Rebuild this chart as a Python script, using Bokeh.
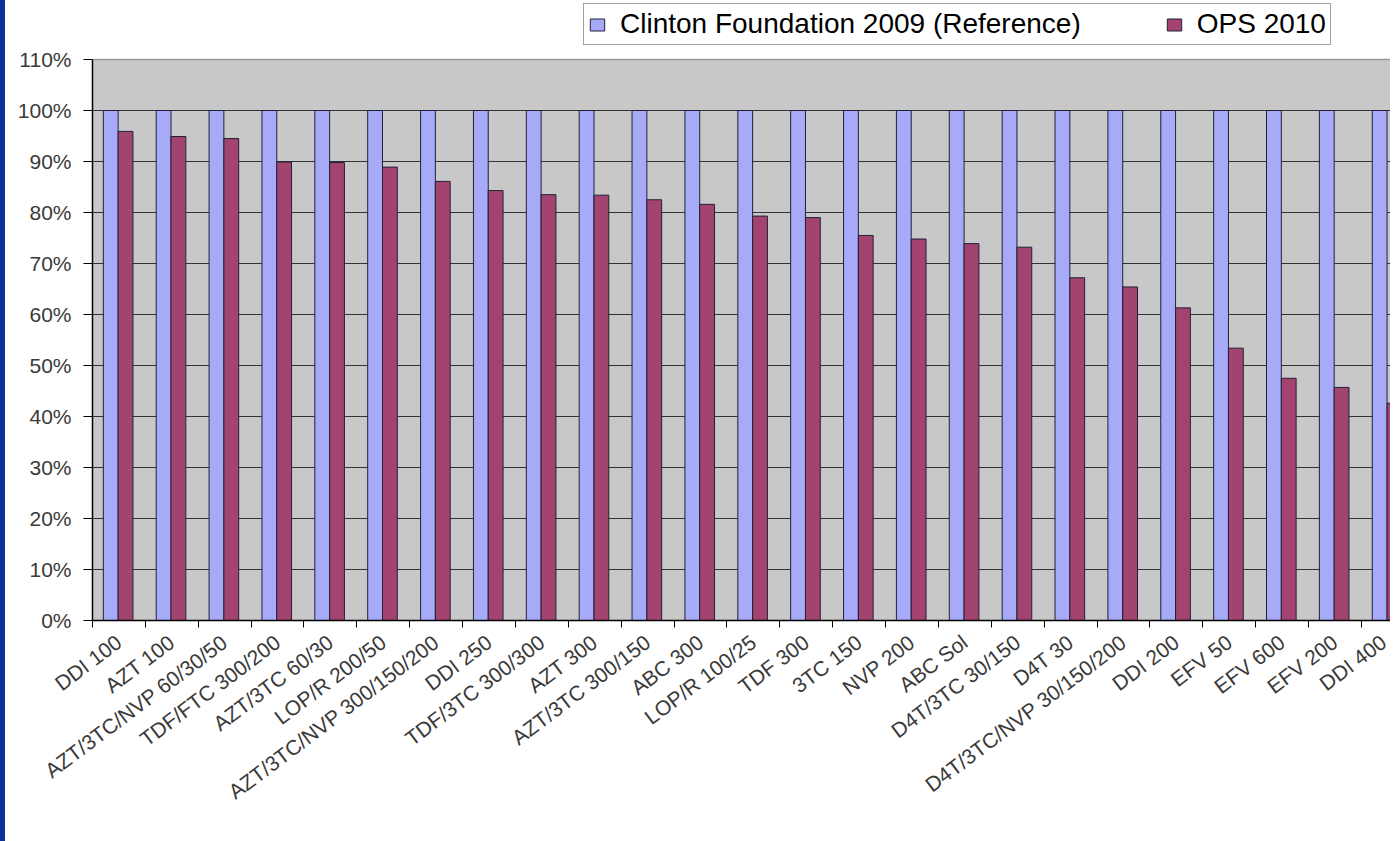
import numpy as np
from bokeh.plotting import figure
from bokeh.layouts import row
from bokeh.models import (ColumnDataSource, Range1d, FixedTicker, Legend, LegendItem,
                          PrintfTickFormatter, BoxAnnotation, Span, Div)
from bokeh.embed import file_html
from bokeh.resources import INLINE

categories = ["DDI 100", "AZT 100", "AZT/3TC/NVP 60/30/50", "TDF/FTC 300/200",
              "AZT/3TC 60/30", "LOP/R 200/50", "AZT/3TC/NVP 300/150/200", "DDI 250",
              "TDF/3TC 300/300", "AZT 300", "AZT/3TC 300/150", "ABC 300",
              "LOP/R 100/25", "TDF 300", "3TC 150", "NVP 200", "ABC Sol",
              "D4T/3TC 30/150", "D4T 30", "D4T/3TC/NVP 30/150/200", "DDI 200",
              "EFV 50", "EFV 600", "EFV 200", "DDI 400"]
clinton_2009 = [100, 100, 100, 100, 100, 100, 100, 100, 100, 100, 100, 100, 100,
                100, 100, 100, 100, 100, 100, 100, 100, 100, 100, 100, 100]
ops_2010 = [95.9, 94.9, 94.5, 89.9, 89.8, 88.9, 86.1, 84.3, 83.5, 83.4, 82.5, 81.6,
            79.3, 79.0, 75.5, 74.8, 73.9, 73.2, 67.2, 65.4, 61.3, 53.4, 47.5, 45.7, 42.6]
series_names = ["Clinton Foundation 2009 (Reference)", "OPS 2010"]
y_ticks = [0, 10, 20, 30, 40, 50, 60, 70, 80, 90, 100, 110]
Y_MAX = 110

BLUE = "#A6AAF7"
RED = "#A3436F"
FONT = "Liberation Sans"

idx = np.arange(len(categories))
src = ColumnDataSource(dict(cat=categories, clinton=clinton_2009, ops=ops_2010,
                            xb=idx + 0.345, xr=idx + 0.625))

# frame spans the whole top of the figure so the legend (drawn inside it) is not clipped;
# the grey plot area is drawn only from 0 to 110 %.
p = figure(width=1385, height=820, x_range=Range1d(0, 24.55), y_range=Range1d(0, 121.57),
           output_backend="svg", toolbar_location=None,
           min_border_left=87, min_border_right=0, min_border_top=0, min_border_bottom=200)
p.background_fill_color = "white"
p.border_fill_color = "white"
p.outline_line_color = None

plot_area = BoxAnnotation(bottom=0, top=Y_MAX, fill_color="#C8C8C8", fill_alpha=1,
                          line_color=None, level="image")
p.add_layout(plot_area)
p.add_layout(Span(location=Y_MAX, dimension="width", line_color="#9a9a9a",
                  line_width=1.5, level="underlay"))

rb = p.vbar(x="xb", top="clinton", bottom=0, width=0.28, fill_color=BLUE,
            line_color="#20203a", line_width=1, source=src)
rr = p.vbar(x="xr", top="ops", bottom=0, width=0.28, fill_color=RED,
            line_color="#20203a", line_width=1, source=src)

# x axis
p.xaxis.ticker = FixedTicker(ticks=list(idx + 0.5), minor_ticks=list(range(len(categories) + 1)))
p.xaxis.major_label_overrides = {float(i + 0.5): c for i, c in enumerate(categories)}
p.xaxis.major_tick_line_color = None
p.xaxis.minor_tick_line_color = "black"
p.xaxis.minor_tick_out = 7
p.xaxis.minor_tick_in = 0
p.xaxis.major_label_orientation = 0.646
p.xaxis.major_label_standoff = 12
p.xaxis.axis_line_color = "black"
p.xaxis.axis_line_width = 1.5
p.xaxis.major_label_text_font = FONT
p.xaxis.major_label_text_font_size = "21px"
p.xaxis.major_label_text_color = "#3a3a3a"
p.xgrid.visible = False

# y axis
p.yaxis.ticker = FixedTicker(ticks=y_ticks)
p.yaxis.bounds = (0, Y_MAX)
p.yaxis.formatter = PrintfTickFormatter(format="%d%%")
p.yaxis.major_tick_out = 9
p.yaxis.major_tick_in = 0
p.yaxis.minor_tick_line_color = None
p.yaxis.major_tick_line_color = "black"
p.yaxis.axis_line_color = "black"
p.yaxis.axis_line_width = 1.5
p.yaxis.major_label_standoff = 12
p.yaxis.major_label_text_font = FONT
p.yaxis.major_label_text_font_size = "21px"
p.yaxis.major_label_text_color = "#3a3a3a"
p.ygrid.ticker = FixedTicker(ticks=y_ticks[:-1])
p.ygrid.grid_line_color = "#333333"
p.ygrid.grid_line_width = 1.2

legend = Legend(items=[LegendItem(label=series_names[0], renderers=[rb]),
                       LegendItem(label=series_names[1], renderers=[rr])],
                orientation="horizontal", location=(491, 575))
legend.label_text_font = FONT
legend.label_text_font_size = "28px"
legend.label_text_color = "black"
legend.glyph_width = 18
legend.glyph_height = 15
legend.label_standoff = 14
legend.spacing = 84
legend.padding = 4
legend.margin = 0
legend.border_line_color = "#444444"
legend.border_line_width = 1.5
legend.background_fill_color = "white"
legend.background_fill_alpha = 1
p.add_layout(legend)

strip = Div(width=5, height=841, margin=0, styles={"background-color": "#0b3098"})
layout = row(strip, p, spacing=0)

open("out.html", "w").write(file_html(layout, INLINE))
